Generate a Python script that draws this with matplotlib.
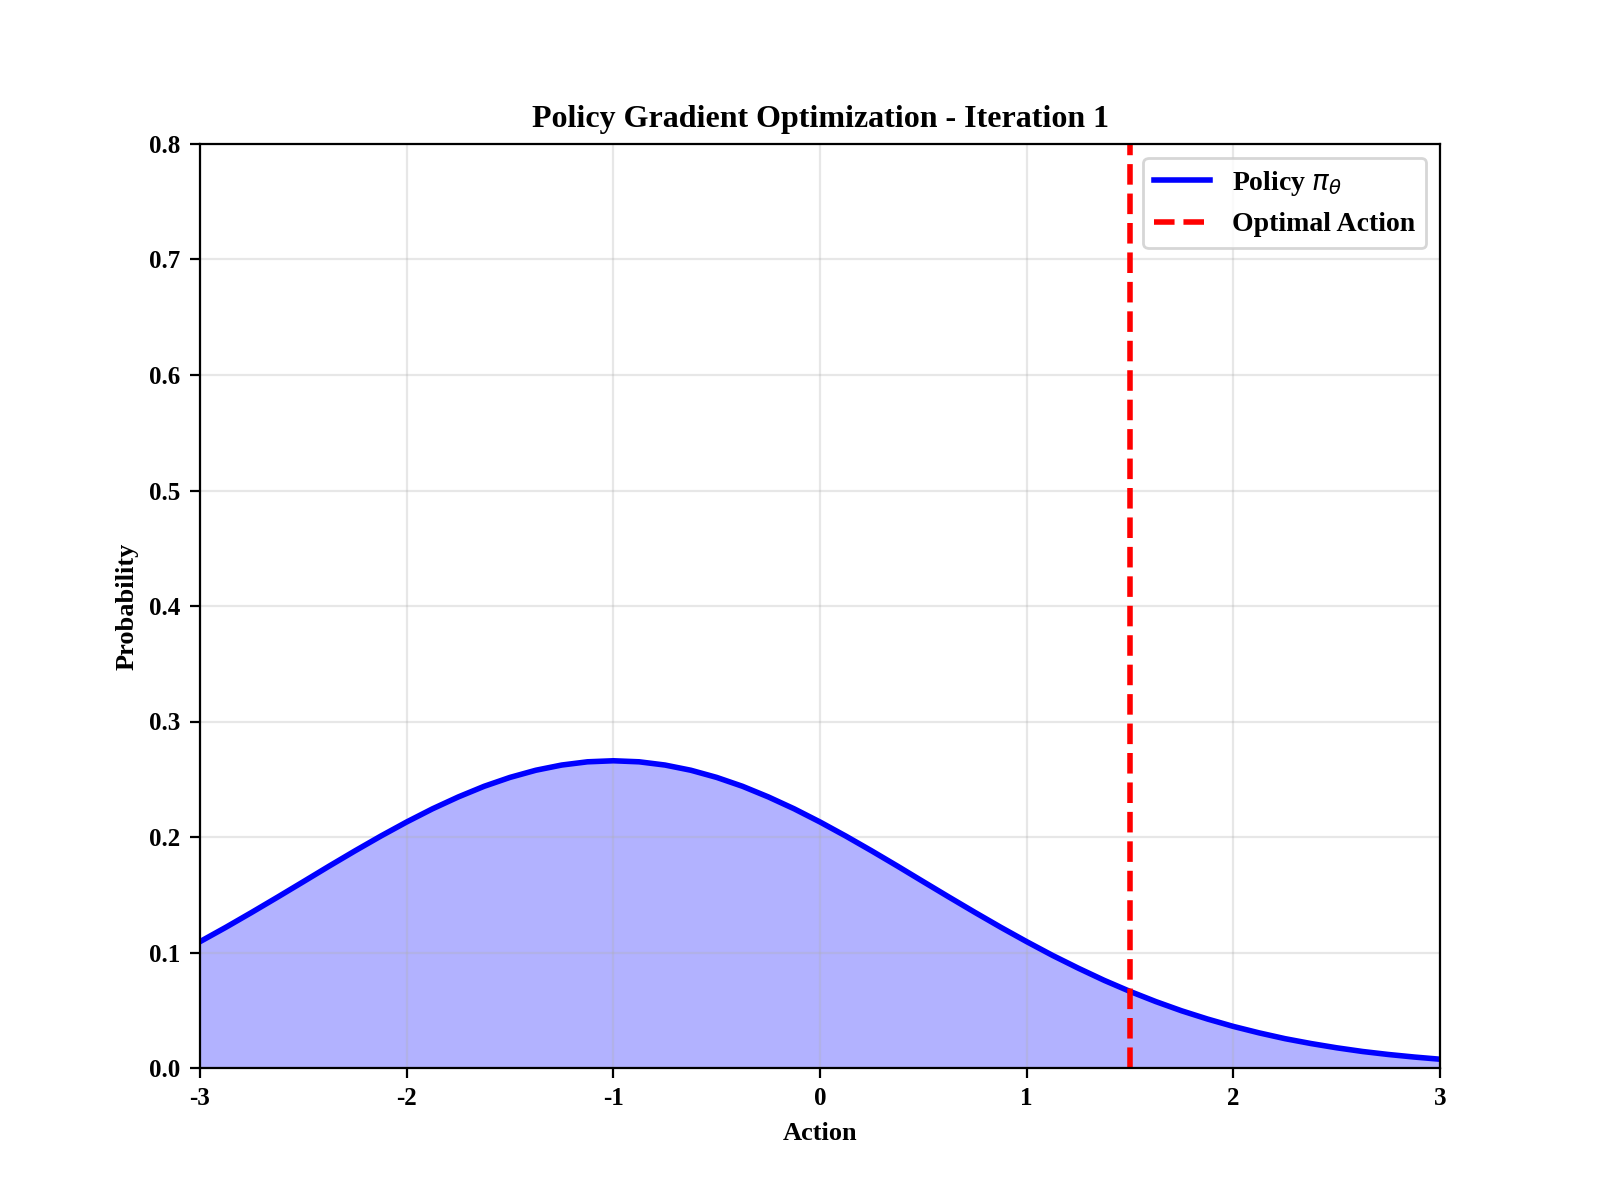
import matplotlib
matplotlib.use("Agg")
import matplotlib.pyplot as plt

plt.rcParams['font.family'] = ['Liberation Serif', 'DejaVu Serif']
plt.rcParams['axes.unicode_minus'] = False

# values (step 0.125)
actions = [-3 + 0.125 * i for i in range(49)]
probs = [0.1094, 0.1218, 0.1347, 0.1479, 0.1613, 0.1748, 0.1880, 0.2008,
         0.2130, 0.2244, 0.2347, 0.2439, 0.2516, 0.2578, 0.2623, 0.2651,
         0.2660,
         0.2651, 0.2623, 0.2578, 0.2516, 0.2439, 0.2347, 0.2244, 0.2130,
         0.2008, 0.1880, 0.1748, 0.1613, 0.1479, 0.1347, 0.1218, 0.1094,
         0.0975, 0.0864, 0.0759, 0.0663, 0.0575, 0.0495, 0.0424, 0.0360,
         0.0304, 0.0254, 0.0212, 0.0175, 0.0143, 0.0117, 0.0095, 0.0076]
optimal_action = 1.5
iteration = 1

fig, ax = plt.subplots(figsize=(8, 6), dpi=200)

ax.plot(actions, probs, color='blue', lw=2, label=r'Policy $\pi_\theta$',
        solid_joinstyle='round')
ax.fill_between(actions, probs, color='blue', alpha=0.3, lw=0)
ax.axvline(optimal_action, color='red', ls='--', lw=2, label='Optimal Action')

ax.set_xlim(-3, 3)
ax.set_ylim(0, 0.8)
ax.set_xlabel('Action', fontsize=9.5, fontweight='bold')
ax.set_ylabel('Probability', fontsize=9.5, fontweight='bold')
ax.set_title(f'Policy Gradient Optimization - Iteration {iteration}', fontsize=11.5, fontweight='bold')
ax.tick_params(labelsize=9)
for lab in ax.get_xticklabels() + ax.get_yticklabels():
    lab.set_fontweight('bold')
ax.grid(True, alpha=0.3)
ax.legend(loc='upper right', prop={'size': 10, 'weight': 'bold'})

fig.savefig('out.png')
